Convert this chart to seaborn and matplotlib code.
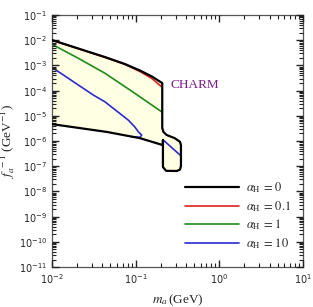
import numpy as np
import matplotlib
matplotlib.use("Agg")
import matplotlib.pyplot as plt
import seaborn as sns
from matplotlib.ticker import LogLocator, FuncFormatter, NullFormatter

# boundary of the CHARM region (alpha_H = 0), closed outline
black_m = [0.01, 0.0216, 0.043, 0.0745, 0.1128, 0.1567, 0.208,
           0.208, 0.215, 0.235, 0.295, 0.339, 0.348,
           0.348, 0.339, 0.31, 0.231, 0.212,
           0.212, 0.212, 0.113, 0.0454, 0.01]
black_f = [1.02e-2, 4.48e-3, 2.15e-3, 1.14e-3, 6.28e-4, 3.63e-4, 2.0e-4,
           3.3e-6, 2.3e-6, 1.74e-6, 1.29e-6, 9.3e-7, 6.9e-7,
           1.02e-7, 7.4e-8, 6.5e-8, 6.6e-8, 9.3e-8,
           1.1e-6, 6.9e-7, 1.3e-6, 2.3e-6, 4.7e-6]

red_m = [0.01, 0.0216, 0.043, 0.0745, 0.1128, 0.1567, 0.208]
red_f = [1.0e-2, 4.4e-3, 2.1e-3, 1.1e-3, 5.73e-4, 3.02e-4, 1.35e-4]

green_m = [0.01, 0.0205, 0.043, 0.093, 0.208]
green_f = [6.9e-3, 1.95e-3, 4.9e-4, 8.8e-5, 1.4e-5]

blue_m = [0.01, 0.0312, 0.043, 0.0817, 0.098, 0.1074, 0.118, 0.1128, 0.09]
blue_f = [8.4e-4, 6.7e-5, 3.6e-5, 6.8e-6, 3.6e-6, 2.35e-6, 1.74e-6, 1.4e-6, 1.5e-6]

blue_box_m = [0.214, 0.339]
blue_box_f = [1.1e-6, 2.8e-7]

labels = [r"$\alpha_{\rm H}\,=\,0$", r"$\alpha_{\rm H}\,=\,0.1$",
          r"$\alpha_{\rm H}\,=\,1$", r"$\alpha_{\rm H}\,=\,10$"]

sns.set_style("ticks", {"xtick.direction": "in", "ytick.direction": "in",
                        "xtick.top": True, "ytick.right": True,
                        "axes.axisbelow": False})
plt.rcParams["font.family"] = ["Liberation Serif", "DejaVu Serif"]
plt.rcParams["mathtext.fontset"] = "stix"

fig = plt.figure(figsize=(3.13, 3.07), dpi=100)
ax = fig.add_axes([0.166, 0.130, 0.802, 0.821])

kw = dict(sort=False, estimator=None, ax=ax)
ax.fill(black_m, black_f, color="#FFFFE3", zorder=1)
sns.lineplot(x=red_m, y=red_f, color="#E02020", lw=1.2, zorder=2, label=labels[1], **kw)
sns.lineplot(x=green_m, y=green_f, color="#1E8A1E", lw=1.2, zorder=2, label=labels[2], **kw)
sns.lineplot(x=blue_m, y=blue_f, color="#2A2AD0", lw=1.2, zorder=2, label=labels[3], **kw)
sns.lineplot(x=blue_box_m, y=blue_box_f, color="#2A2AD0", lw=1.2, zorder=2, **kw)
sns.lineplot(x=black_m, y=black_f, color="black", lw=1.6, zorder=3, label=labels[0], **kw)

ax.set_xscale("log")
ax.set_yscale("log")
ax.set_xlim(1e-2, 1e1)
ax.set_ylim(1e-11, 1e-1)

ax.text(0.26, 1.7e-4, "CHARM", color="#7B1A8C", fontsize=9.5, ha="left", va="center")

ax.set_xlabel(r"$m_a\,$(GeV)", fontsize=9.5, labelpad=5)
ax.set_ylabel(r"$f_a^{\ -1}$ (GeV$^{-1}$)", fontsize=9.5, labelpad=1)

fmt = FuncFormatter(lambda v, p: r"$\mathdefault{10^{%d}}$" % int(round(np.log10(v))))
for axis in (ax.xaxis, ax.yaxis):
    axis.set_major_locator(LogLocator(base=10, numticks=100))
    axis.set_minor_locator(LogLocator(base=10, subs=np.arange(2, 10), numticks=100))
    axis.set_major_formatter(fmt)
    axis.set_minor_formatter(NullFormatter())

ax.tick_params(which="both", direction="in", top=True, right=True,
               bottom=True, left=True, color="#222222")
ax.tick_params(which="major", length=5, width=1.0)
ax.tick_params(which="minor", length=3, width=0.8)
ax.tick_params(labelsize=7, labelfontfamily="DejaVu Sans")

for s in ax.spines.values():
    s.set_color("#555555")
    s.set_linewidth(0.9)

h, l = ax.get_legend_handles_labels()
order = [3, 0, 1, 2]
ax.legend([h[i] for i in order], [l[i] for i in order], loc="lower right",
          bbox_to_anchor=(1.0, 0.02), frameon=False, fontsize=9,
          handlelength=4.3, labelspacing=0.3, handletextpad=0.6)

fig.savefig("out.png", dpi=100)
